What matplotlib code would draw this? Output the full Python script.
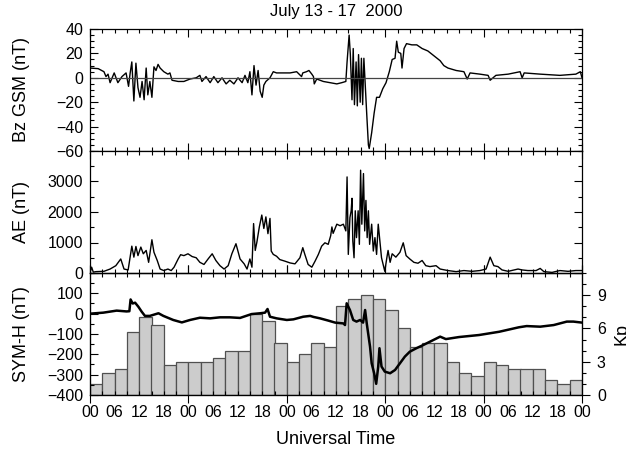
import matplotlib
matplotlib.use("Agg")
import matplotlib.pyplot as plt
from matplotlib.ticker import MultipleLocator, FixedLocator, FuncFormatter

plt.rcParams['font.family'] = ['Liberation Sans', 'DejaVu Sans']
plt.rcParams['font.size'] = 11

# ---------------- data (hours since 2000-07-13 00 UT) ----------------
bz_t = [0, 2, 3.4, 3.9, 4.4, 4.9, 5.9, 6.8, 7.8, 8.8, 9.4, 9.8, 10.2, 10.7, 11.2, 11.7,
        12.2, 12.7, 13.2, 13.7, 14.1, 14.6, 15.1, 15.6, 16.1, 16.6, 17.1, 18, 19, 19.5,
        20, 21.5, 22.9, 24.4, 25.9, 26.8, 27.3, 28.3, 29.3, 30.2, 31.2, 32.2, 33.2, 34.1,
        35.1, 36.1, 37.1, 37.8, 38.5, 39, 39.5, 40, 40.5, 41, 41.5, 42, 42.4, 42.9, 43.9,
        44.7, 45.5, 47.2, 48.8, 50.4, 51.6, 51.9, 52.8, 53.4, 54.1, 54.5, 54.7, 55.3, 56.9,
        58.5, 60.2, 61.4, 62.4, 62.7, 63.2, 63.5, 63.9, 64.2, 64.5, 64.9, 65.2, 65.5, 65.9,
        66.2, 66.5, 66.8, 67.2, 67.5, 67.9, 68.1, 68.7, 69.3, 69.9, 70.6, 71.4, 72.2, 73.0,
        73.7, 74.4, 74.8, 75.2, 75.8, 76.1, 76.6, 77.2, 78.5, 79.7, 81, 82.4, 83.9, 85.4,
        86.3, 87.3, 89.3, 91.2, 92, 92.7, 95.1, 97.1, 97.6, 99, 102, 104.9, 105.4, 105.9,
        109.8, 114.6, 118.5, 119.6, 120]
bz_v = [8, 7.5, 5, 1, 3, -4, 4, -4, 1, 4, -7, 4, 13, -19, 12, -8,
        -16, -3, -18, 8, -14, -3, -16, 9, 6, 11, 8, 5, 3, 4,
        -2, -3, -3, -1, 0, 2, -3, 1, -4, 1, -4, 0, -5, -2,
        -5, 0, -4, 2, -4, 5, -14, 10, -6, 6, -11, -16, -6, -3, 0,
        5, 4, 4, 4, 5, 1, 4, 5, 6, 3, 1, -5, -1, -3,
        -4, -5, -4, -3, 13, 35, 19, -18, 24, -22, 13, -23, 19, -20,
        16, -22, 16, -11, -30, -55, -58, -45, -29, -16, -16, -9, -4, 5,
        15, 16, 30, 21, 20, 8, 24, 28, 27, 27, 24, 22, 18, 14,
        10, 8, 6, 5, -1, 4, 3, 2, -2, 2, 3, 5, 0, 4,
        3, 2, 3, 5, 0]

ae_t = [0, 0.4, 0.8, 1.5, 3.4, 4.9, 6.3, 7.5, 8.3, 9.3, 10.2, 10.7, 11.2, 11.7, 12.4, 13,
        13.7, 14.3, 15.1, 15.6, 16.4, 17.1, 18, 19, 19.8, 20.5, 21.5, 22.1, 22.9, 23.9,
        24.9, 25.9, 26.8, 27.8, 28.8, 29.8, 30.7, 31.7, 32.7, 33.7, 34.6, 35.6, 36.6, 37.6,
        38.3, 39, 39.5, 39.9, 40.3, 40.7, 41.3, 41.9, 42.4, 42.9, 43.4, 43.9, 44.2, 44.7,
        45.5, 46.3, 47.5, 48.8, 50, 51.2, 51.9, 52.4, 53.2, 54.1, 54.9, 55.7, 56.5, 57.3,
        58.1, 58.7, 59, 59.3, 60.2, 61, 61.8, 62.4, 62.7, 63, 63.4, 63.7, 63.9, 64.1, 64.4,
        64.7, 65, 65.4, 65.7, 66, 66.3, 66.7, 67, 67.3, 67.6, 67.9, 68.2, 68.7, 69.1, 69.5,
        69.9, 70.3, 70.7, 71.1, 71.5, 71.9, 72.4, 72.7, 73.2, 73.7, 74.6, 75.6, 76.4, 77.1,
        78, 79, 80, 81, 81.9, 82.9, 84.4, 85.4, 87.3, 89.3, 91.2, 93.2, 95.1, 96.6, 97.6,
        98.5, 99.5, 100.5, 102, 103.4, 104.4, 105.4, 106.8, 108.8, 109.8, 110.7, 112.7,
        114.6, 116.6, 118.5, 120]
ae_v = [20, 190, 30, 45, 55, 130, 240, 460, 130, 100, 880, 520, 870, 570, 850, 630,
        740, 350, 1090, 680, 410, 130, 80, 130, 80, 190, 460, 600, 570, 630,
        540, 500, 350, 280, 460, 630, 410, 240, 130, 240, 630, 960, 460, 300,
        130, 460, 190, 1620, 740, 1010, 1510, 1900, 1460, 1840, 1290, 1790, 720, 610,
        550, 440, 390, 330, 300, 500, 830, 610, 280, 190, 390, 610, 880, 990,
        940, 1220, 1510, 1300, 1600, 1550, 1600, 1380, 3150, 610, 1820, 2040, 2450, 1050, 500,
        2040, 1160, 2040, 940, 3370, 1600, 3260, 1380, 2380, 1160, 2040, 940, 1600, 720, 1160,
        610, 1600, 1050, 500, 280, 55, 500, 740, 350, 630, 520, 680, 990, 570,
        460, 350, 320, 410, 240, 210, 240, 130, 80, 45, 80, 55, 80, 130, 520,
        240, 210, 100, 55, 100, 130, 100, 80, 80, 150, 45, 20,
        80, 55, 80, 80]

sym_t = [0, 3.25, 6.5, 8.9, 9.6, 9.9, 10.4, 11, 11.8, 12.6, 13.4, 14.6, 16.7, 17.9, 20.3,
         22.4, 24.4, 26.8, 29.3, 31.7, 34.1, 36.6, 39.4, 41.5, 42.7, 43.3, 43.9, 45.5, 48,
         49.6, 52, 53.7, 54.5, 56.1, 58.1, 59.8, 61.8, 62.2, 62.6, 63.4, 64.2, 65, 65.9,
         66.6, 67.1, 67.5, 68.3, 68.7, 69.3, 69.8, 70.3, 70.6, 71.1, 71.9, 73.2, 74.4, 75.6,
         76.8, 78, 79.6, 81.3, 82.9, 84.6, 85.4, 86.8, 90, 94.9, 99.8, 104.6, 106.5, 109.8,
         113.1, 116.3, 117.9, 120]
sym_v = [0, 5, 15, 11, 12, 70, 50, 54, 34, 10, -11, -11, 2, -11, -31,
         -43, -31, -20, -23, -18, -18, -21, -2, 2, 5, 23, -15, -23, -31,
         -28, -15, -11, -16, -23, -34, -44, -48, -56, 51, 18, -31, -39, -31,
         -44, 18, -48, -162, -244, -293, -345, -260, -170, -260, -285, -293, -277, -244,
         -211, -187, -170, -154, -138, -121, -113, -125, -115, -105, -89, -67, -61, -64,
         -56, -39, -39, -44]

kp_start = [3 * i for i in range(40)]
kp_v = [1, 2, 2.33, 5.67, 7, 6.33, 2.67, 3, 3, 3, 3.33, 4, 4, 7.33, 6.67, 4.67,
        3, 3.67, 4.67, 4.33, 8, 8.67, 9, 8.67, 7.67, 6, 4.33, 4.67, 4.67, 3,
        2, 1.67, 3, 2.67, 2.33, 2.33, 2.33, 1.33, 1, 1.33]

title = "July 13 - 17  2000"
xlabel = "Universal Time"

# ---------------- figure ----------------
W, H = 626, 453
fig = plt.figure(figsize=(W / 100, H / 100), dpi=100)
left, right = 90 / W, 582 / W
tops = [29, 151, 273, 395]
axes = []
for i in range(3):
    b = 1 - tops[i + 1] / H
    h = (tops[i + 1] - tops[i]) / H
    axes.append(fig.add_axes([left, b, right - left, h]))
ax1, ax2, ax3 = axes

PX = 0.72  # points per pixel at 100 dpi
major_len, minor_len = 8 * PX, 4 * PX
TICK_FS = 11.5
LAB_FS = 13

def day_fmt(x, pos):
    return "%02d" % (int(round(x)) % 24)

def six_fmt(x, pos):
    xi = int(round(x))
    return "%02d" % (xi % 24) if xi % 6 == 0 else ""

for ax in axes:
    ax.set_xlim(0, 120)
    ax.xaxis.set_major_locator(MultipleLocator(24))
    ax.xaxis.set_minor_locator(MultipleLocator(3))
    ax.tick_params(axis='both', which='major', direction='in', length=major_len,
                   width=0.8, top=True, right=True, labelsize=TICK_FS, pad=5)
    ax.tick_params(axis='both', which='minor', direction='in', length=minor_len,
                   width=0.8, top=True, right=True)
    for s in ax.spines.values():
        s.set_linewidth(0.9)
    if ax is not ax3:
        ax.tick_params(axis='x', which='both', labelbottom=False)

ax3.xaxis.set_major_formatter(FuncFormatter(day_fmt))
ax3.xaxis.set_minor_formatter(FuncFormatter(six_fmt))
ax3.tick_params(axis='x', which='major', direction='out', length=major_len, pad=2 * PX)
ax3.tick_params(axis='x', which='minor', direction='in', length=minor_len,
                pad=major_len + 2 * PX, labelsize=TICK_FS)
ax3.tick_params(axis='y', which='both', right=False)

# Bz panel
ax1.plot(bz_t, bz_v, color='black', lw=1.0)
ax1.axhline(0, color='#444444', lw=0.9)
ax1.set_ylim(-60, 40)
ax1.yaxis.set_major_locator(MultipleLocator(20))
ax1.yaxis.set_minor_locator(MultipleLocator(5))
ax1.set_ylabel("Bz GSM (nT)", fontsize=LAB_FS)
ax1.set_title(title, fontsize=12, pad=9)

# AE panel
ax2.plot(ae_t, ae_v, color='black', lw=1.0)
ax2.set_ylim(0, 4000)
ax2.yaxis.set_major_locator(FixedLocator([0, 1000, 2000, 3000]))
ax2.yaxis.set_minor_locator(MultipleLocator(500))
ax2.set_ylabel("AE (nT)", fontsize=LAB_FS)

# SYM-H + Kp panel
axk = ax3.twinx()
axk.bar(kp_start, kp_v, width=3, align='edge', color='#cccccc',
        edgecolor='#505050', linewidth=0.9)
axk.set_ylim(0, 11)
axk.yaxis.set_major_locator(FixedLocator([0, 3, 6, 9]))
axk.yaxis.set_minor_locator(MultipleLocator(1))
axk.tick_params(axis='y', which='major', direction='out', length=major_len,
                width=0.8, labelsize=TICK_FS, pad=5)
axk.tick_params(axis='y', which='minor', direction='out', length=minor_len, width=0.8)
axk.set_ylabel("Kp", fontsize=LAB_FS)
axk.yaxis.set_label_coords((613 - 90) / 492, 0.5)

ax3.set_zorder(axk.get_zorder() + 1)
ax3.patch.set_visible(False)
ax3.plot(sym_t, sym_v, color='black', lw=1.8)
ax3.set_ylim(-400, 200)
ax3.yaxis.set_major_locator(FixedLocator([-400, -300, -200, -100, 0, 100]))
ax3.yaxis.set_minor_locator(MultipleLocator(50))
ax3.set_ylabel("SYM-H (nT)", fontsize=LAB_FS)
ax3.set_xlabel(xlabel, fontsize=LAB_FS, labelpad=8)

for ax in axes:
    ax.yaxis.set_label_coords((30 - 90) / 492, 0.5)

fig.savefig("out.png", dpi=100)
